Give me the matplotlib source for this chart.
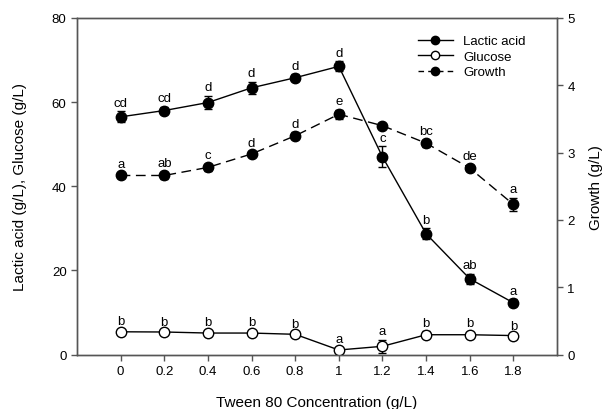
import matplotlib
matplotlib.use("Agg")
import matplotlib.pyplot as plt
from matplotlib.lines import Line2D

plt.rcParams['font.family'] = ['Liberation Sans', 'DejaVu Sans']

x = [0, 0.2, 0.4, 0.6, 0.8, 1.0, 1.2, 1.4, 1.6, 1.8]
xticklabels = ['0', '0.2', '0.4', '0.6', '0.8', '1', '1.2', '1.4', '1.6', '1.8']

lactic = [56.5, 58.0, 59.9, 63.4, 65.8, 68.5, 47.0, 28.7, 18.0, 12.3]
lactic_err = [1.3, 0.8, 1.5, 1.5, 0.8, 1.2, 2.5, 1.3, 1.2, 0.8]
lactic_lbl = ['cd', 'cd', 'd', 'd', 'd', 'd', 'c', 'b', 'ab', 'a']

glucose = [5.4, 5.35, 5.1, 5.1, 4.8, 1.07, 1.95, 4.7, 4.7, 4.5]
glucose_err = [0.4, 0.3, 0.6, 0.5, 0.4, 0.5, 1.5, 0.8, 0.6, 0.3]
glucose_lbl = ['b', 'b', 'b', 'b', 'b', 'a', 'a', 'b', 'b', 'b']

growth = [2.66, 2.66, 2.78, 2.98, 3.25, 3.57, 3.40, 3.14, 2.77, 2.23]
growth_err = [0.04, 0.05, 0.05, 0.03, 0.05, 0.07, 0.03, 0.05, 0.05, 0.10]
growth_lbl = ['a', 'ab', 'c', 'd', 'd', 'e', '', 'bc', 'de', 'a']

spine_c = '#555555'

fig = plt.figure(figsize=(6.06, 4.10), dpi=100)
ax = fig.add_axes([77/606, 1-355.5/410, (557-77)/606, (355.5-19)/410])
ax2 = ax.twinx()

ms = 7.5
ax.errorbar(x, lactic, yerr=lactic_err, color='black', marker='o', ms=ms,
            mfc='black', mec='black', lw=1.0, capsize=3, elinewidth=1.0, zorder=3)
ax.errorbar(x, glucose, yerr=glucose_err, color='black', marker='o', ms=ms,
            mfc='white', mec='black', mew=1.0, lw=1.0, capsize=3, elinewidth=1.0, zorder=3)
ax2.errorbar(x, growth, yerr=growth_err, color='black', marker='o', ms=ms,
             mfc='black', mec='black', lw=1.0, ls=(0, (7, 4)), capsize=3,
             elinewidth=1.0, zorder=3)

fs_lbl = 9.5
for xi, v, e, t in zip(x, lactic, lactic_err, lactic_lbl):
    ax.annotate(t, (xi, v + e), xytext=(0, 2), textcoords='offset points',
                ha='center', va='bottom', fontsize=fs_lbl)
for xi, v, e, t in zip(x, glucose, glucose_err, glucose_lbl):
    ax.annotate(t, (xi, v + e), xytext=(0, 2), textcoords='offset points',
                ha='center', va='bottom', fontsize=fs_lbl)
for xi, v, e, t in zip(x, growth, growth_err, growth_lbl):
    if t:
        ax2.annotate(t, (xi, v + e), xytext=(0, 2), textcoords='offset points',
                     ha='center', va='bottom', fontsize=fs_lbl)

ax.set_xlim(-0.2, 2.0)
ax.set_ylim(0, 80)
ax2.set_ylim(0, 5)
ax.set_xticks(x)
ax.set_xticklabels(xticklabels)
ax.set_yticks([0, 20, 40, 60, 80])
ax2.set_yticks([0, 1, 2, 3, 4, 5])

for a in (ax, ax2):
    for s in a.spines.values():
        s.set_color(spine_c)
        s.set_linewidth(1.0)
    a.tick_params(direction='out', length=4, width=1.0, color=spine_c, labelsize=9.5)

ax.set_xlabel('Tween 80 Concentration (g/L)', fontsize=11, labelpad=13)
ax.set_ylabel('Lactic acid (g/L), Glucose (g/L)', fontsize=11, labelpad=18)
ax2.set_ylabel('Growth (g/L)', fontsize=11, labelpad=10)

handles = [
    Line2D([], [], color='black', lw=1.0, marker='o', ms=6, mfc='black', mec='black'),
    Line2D([], [], color='black', lw=1.0, marker='o', ms=6, mfc='white', mec='black'),
    Line2D([], [], color='black', lw=1.0, ls=(0, (4, 3)), marker='o', ms=6, mfc='black', mec='black'),
]
ax2.legend(handles, ['Lactic acid', 'Glucose', 'Growth'], loc='upper left',
           bbox_to_anchor=(0.70, 0.965), frameon=False, fontsize=9.5,
           handlelength=2.6, handletextpad=0.8, labelspacing=0.25, borderaxespad=0)

fig.savefig('out.png', dpi=100)
